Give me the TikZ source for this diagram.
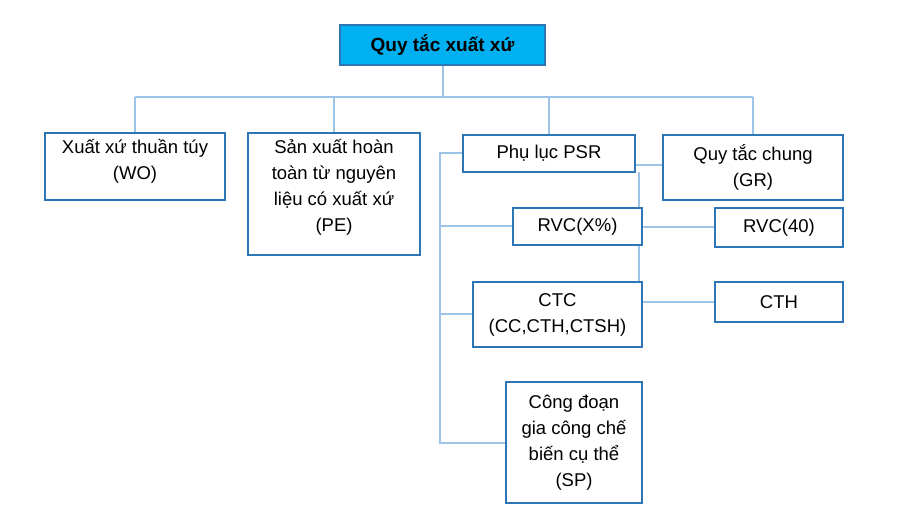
\documentclass[tikz,border=0pt]{standalone}
\usepackage{fontspec}
\setmainfont{Liberation Sans}
\begin{document}
\begin{tikzpicture}[x=1pt,y=-1pt,
  txt/.style={font=\fontsize{18.5}{26}\selectfont,align=center},
  box/.style={draw=boxc,line width=1.6pt,fill=white,inner sep=0pt,txt},
  ln/.style={draw=linec,line width=2pt}]
\definecolor{boxc}{HTML}{2E75B6}
\definecolor{linec}{HTML}{9DC3E6}
\definecolor{titc}{HTML}{00B0F0}
\useasboundingbox (0,0) rectangle (897,526);
\coordinate (h) at (442.5,97);
\draw[ln] (442.5,65) -- (h);
\draw[ln] (135,97) -- (753,97);
\draw[ln] (135,97) -- (135,133);
\draw[ln] (334,97) -- (334,133);
\draw[ln] (549,97) -- (549,135);
\draw[ln] (753,97) -- (753,135);
\draw[ln] (463,153.5) -- (440,153.5) -- (440,442.5) -- (506,442.5);
\draw[ln] (440,226.5) -- (513,226.5);
\draw[ln] (440,314.5) -- (473,314.5);
\draw[ln] (639,172) -- (639,282);
\draw[ln] (635,165) -- (663,165);
\draw[ln] (642,227) -- (715,227);
\draw[ln] (642,302) -- (715,302);
\node[box,fill=titc,font=\bfseries\fontsize{19}{22}\selectfont,minimum width=205,minimum height=40] (t) at (442.5,45) {Quy tắc xuất xứ};
\node[box,minimum width=180,minimum height=67] (wo) at (135,166.5) {};
\node[txt,anchor=north] at (135,136) {Xuất xứ thuần túy\\(WO)};
\node[box,minimum width=172,minimum height=122] (pe) at (334,194) {};
\node[txt,anchor=north] at (334,136) {Sản xuất hoàn\\toàn từ nguyên\\liệu có xuất xứ\\(PE)};
\node[box,minimum width=172,minimum height=37] (psr) at (549,153.5) {Phụ lục PSR};
\node[box,minimum width=180,minimum height=65] (gr) at (753,167.5) {Quy tắc chung\\(GR)};
\node[box,minimum width=129,minimum height=37] (rx) at (577.5,226.5) {RVC(X\%)};
\node[box,minimum width=128,minimum height=39] (r40) at (779,227.5) {RVC(40)};
\node[box,minimum width=169,minimum height=65] (ctc) at (557.5,314.5) {CTC\\(CC,CTH,CTSH)};
\node[box,minimum width=128,minimum height=40] (cth) at (779,302) {CTH};
\node[box,minimum width=136,minimum height=121] (sp) at (574,442.5) {Công đoạn\\gia công chế\\biến cụ thể\\(SP)};
\end{tikzpicture}
\end{document}
